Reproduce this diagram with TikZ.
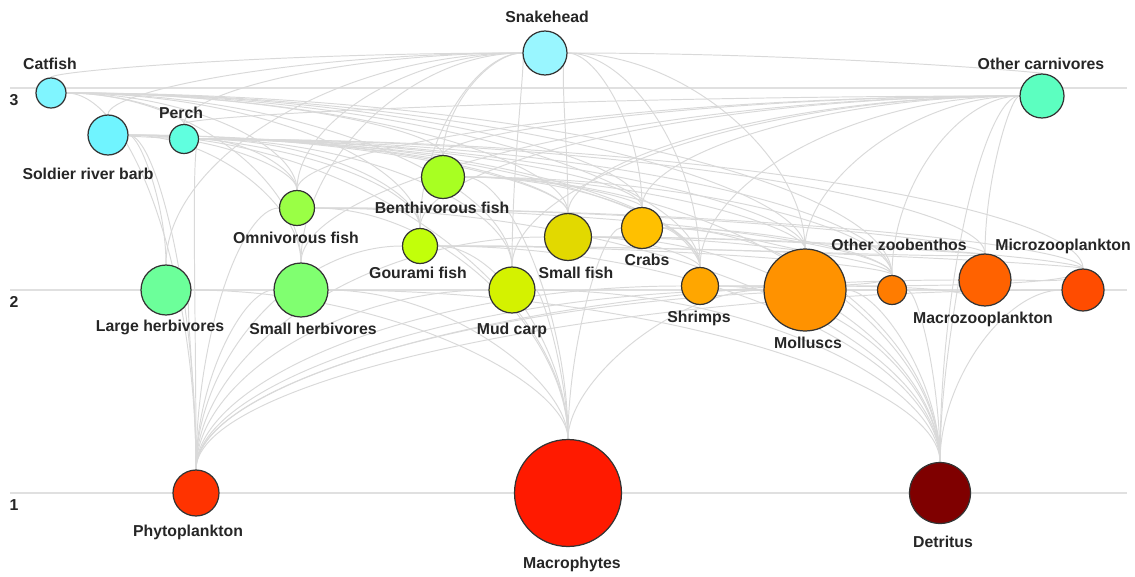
\documentclass[tikz,border=0pt]{standalone}
\usepackage{fontspec}
\setmainfont{Liberation Sans}
\usetikzlibrary{calc}
\pgfdeclarelayer{back}
\pgfsetlayers{back,main}
\definecolor{cCat}{HTML}{80F5FF}\definecolor{cSnk}{HTML}{99F6FF}\definecolor{cSrb}{HTML}{70F4FF}
\definecolor{cPer}{HTML}{60FFDF}\definecolor{cOca}{HTML}{5CFFC0}\definecolor{cLhe}{HTML}{6CFF9A}
\definecolor{cShe}{HTML}{80FF70}\definecolor{cOmn}{HTML}{9AFF45}\definecolor{cBen}{HTML}{A8FF22}
\definecolor{cGou}{HTML}{C2FF0A}\definecolor{cMud}{HTML}{D4F200}\definecolor{cSmf}{HTML}{E2D900}
\definecolor{cCrb}{HTML}{FFC000}\definecolor{cShr}{HTML}{FFA600}\definecolor{cMol}{HTML}{FF9200}
\definecolor{cOzb}{HTML}{FF7C00}\definecolor{cMaz}{HTML}{FF6200}\definecolor{cMiz}{HTML}{FF4C00}
\definecolor{cPhy}{HTML}{FF3300}\definecolor{cMac}{HTML}{FF1A00}\definecolor{cDet}{HTML}{7F0000}
\tikzset{sp/.style={circle,draw=black!80,line width=0.7pt,inner sep=0pt,minimum size=#1*0.04cm},
lbl/.style={font=\fontsize{9}{10}\selectfont\bfseries,text=black!85,anchor=base,inner sep=0pt},
link/.style={draw=black!15,line width=0.55pt},lvl/.style={draw=black!12,line width=0.6pt}}
% predator #1 feeds on prey #2: leaves #1 sideways, enters #2 from above
\newcommand\feeds[2]{\draw[link](#1)..controls($(#1)!.55!(#2|-#1)$)and($(#2)!.55!(#2|-#1)$)..(#2);}
\begin{document}
\begin{tikzpicture}[x=0.02cm,y=0.02cm]
\useasboundingbox(0,0)rectangle(1135,576);
% level 3
\node[sp=15,fill=cCat](cat)at(51,483){};\node[sp=22,fill=cSnk](snk)at(545,523){};
\node[sp=22,fill=cOca](oca)at(1042,480){};\node[sp=20,fill=cSrb](srb)at(108,441){};
\node[sp=14.5,fill=cPer](per)at(184,437){};
% fish in between
\node[sp=21.5,fill=cBen](ben)at(443,399){};\node[sp=17.5,fill=cOmn](omn)at(297,368){};
\node[sp=17.5,fill=cGou](gou)at(420,330){};\node[sp=23.5,fill=cSmf](smf)at(568,339){};
\node[sp=20.5,fill=cCrb](crb)at(642,348){};\node[sp=18.5,fill=cShr](shr)at(700,290){};
% level 2
\node[sp=25,fill=cLhe](lhe)at(166,286){};\node[sp=27,fill=cShe](she)at(301,286){};
\node[sp=23,fill=cMud](mud)at(512,286){};\node[sp=41,fill=cMol](mol)at(805,286){};
\node[sp=14.5,fill=cOzb](ozb)at(892,286){};\node[sp=26,fill=cMaz](maz)at(985,296){};
\node[sp=21,fill=cMiz](miz)at(1083,286){};
% level 1
\node[sp=23,fill=cPhy](phy)at(196,83){};\node[sp=53.5,fill=cMac](mac)at(568,83){};
\node[sp=30.5,fill=cDet](det)at(940,83){};
% labels
\node[lbl](catL)at(50,507){Catfish};\node[lbl](snkL)at(547,554){Snakehead};
\node[lbl](ocaL)at(1041,507){Other carnivores};\node[lbl](srbL)at(88,397){Soldier river barb};
\node[lbl](perL)at(181,458){Perch};\node[lbl](benL)at(442,363){Benthivorous fish};
\node[lbl](omnL)at(296,333){Omnivorous fish};\node[lbl](gouL)at(418,298){Gourami fish};
\node[lbl](smfL)at(576,298){Small fish};\node[lbl](crbL)at(647,311){Crabs};
\node[lbl](shrL)at(699,254){Shrimps};\node[lbl](lheL)at(160,245){Large herbivores};
\node[lbl](sheL)at(313,242){Small herbivores};\node[lbl](mudL)at(512,242){Mud carp};
\node[lbl](molL)at(808,228){Molluscs};\node[lbl](ozbL)at(899,326){Other zoobenthos};
\node[lbl](mazL)at(983,253){Macrozooplankton};\node[lbl](mizL)at(1063,326){Microzooplankton};
\node[lbl](phyL)at(188,40){Phytoplankton};\node[lbl](macL)at(572,8){Macrophytes};
\node[lbl](detL)at(943,29){Detritus};
\node[lbl](lv3)at(14,471){3};\node[lbl](lv2)at(14,269){2};\node[lbl](lv1)at(14,66){1};
\begin{pgfonlayer}{back}
\foreach\y in{488,286,83}\draw[lvl](10,\y)--(1127,\y);
\draw[link](srb)--(per);
\foreach\n in{per,omn,ben,gou,smf,crb,shr,mud,mol,ozb,she,phy}{\feeds{cat}{\n}}
\foreach\n in{cat,srb,per,omn,ben,gou,smf,mud,she,lhe,crb,shr,oca,mol}{\feeds{snk}{\n}}
\foreach\n in{per,ben,omn,gou,smf,crb,shr,mud,mol,ozb,maz,she,det}{\feeds{oca}{\n}}
\foreach\n in{omn,she,lhe,gou,smf,shr,phy,mac}{\feeds{srb}{\n}}
\foreach\n in{ben,omn,gou,smf,crb,shr,mud,mol,ozb,maz,miz,phy}{\feeds{per}{\n}}
\foreach\n in{mol,ozb,shr,crb,det,mac}{\feeds{ben}{\n}}
\foreach\n in{mac,phy,det,ozb,maz,miz}{\feeds{omn}{\n}}
\foreach\n in{phy,mac,maz,miz,det,ozb}{\feeds{gou}{\n}}
\foreach\n in{maz,miz,phy,ozb,det,shr}{\feeds{smf}{\n}}
\foreach\n in{mol,ozb,det,mac,shr}{\feeds{crb}{\n}}
\foreach\n in{det,phy,ozb,miz,maz}{\feeds{shr}{\n}}
\foreach\n in{det,phy,mac}{\feeds{mud}{\n}}
\foreach\n in{mac,phy}{\feeds{lhe}{\n}}
\foreach\n in{mac,phy,det}{\feeds{she}{\n}}
\foreach\n in{det,phy,mac}{\feeds{mol}{\n}}
\foreach\n in{det,phy}{\feeds{ozb}{\n}}
\foreach\n in{miz,phy,det}{\feeds{maz}{\n}}
\foreach\n in{phy,det}{\feeds{miz}{\n}}
\end{pgfonlayer}
\end{tikzpicture}
\end{document}
